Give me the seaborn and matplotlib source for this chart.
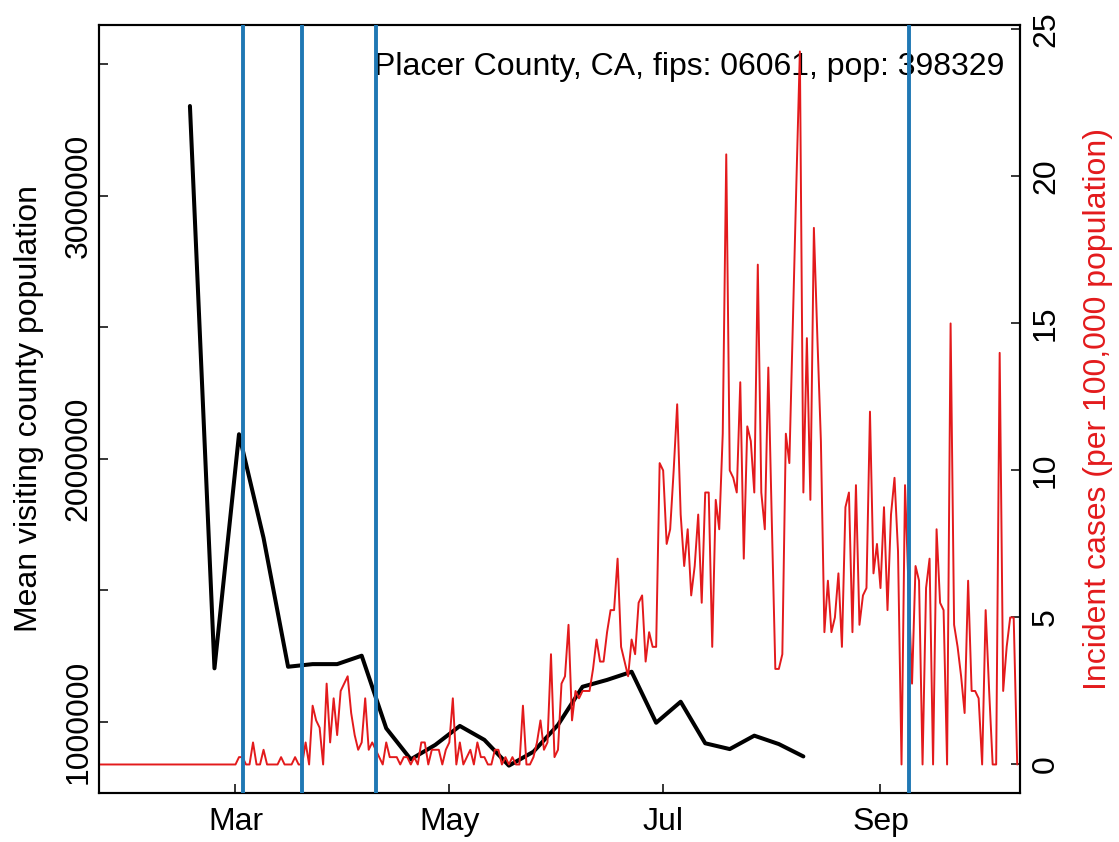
import pandas as pd
import seaborn as sns
import matplotlib.pyplot as plt
import matplotlib.dates as mdates

# weekly mean visiting county population (black line)
visit_dates = pd.date_range("2020-02-17", "2020-08-10", freq="7D")
visit_pop = [3342000, 1204000, 2094000, 1700000, 1210000, 1220000, 1220000,
             1252000, 976000, 858000, 913000, 985000, 932000, 834000,
             887000, 989000, 1134000, 1160000, 1191000, 997000, 1077000,
             919000, 897000, 948000, 916000, 869000]

# daily incident cases per 100,000 (red line), 2020-01-22 .. 2020-10-10
case_dates = pd.date_range("2020-01-22", "2020-10-10", freq="D")
cases_jan = [0, 0, 0, 0, 0, 0, 0, 0, 0, 0]
cases_feb = [0, 0, 0, 0, 0, 0, 0, 0, 0, 0, 0, 0, 0, 0, 0, 0, 0, 0, 0, 0,
             0, 0, 0, 0, 0, 0, 0, 0, 0]
cases_mar = [0, .25, .25, 0, 0, .75, 0, 0, .5, 0, 0, 0, 0, .25, 0, 0, 0, .25,
             0, 0, .75, 0, 2.0, 1.5, 1.25, 0, 2.75, .75, 2.25, 1.0, 2.5]
cases_apr = [2.75, 3.0, 1.75, 1.0, .5, .75, 2.25, .5, .75, .5, .25, 0, .75,
             .25, .25, .25, 0, .25, .25, 0, .25, 0, .75, .75, 0, .5, .5, .5,
             0, .5]
cases_may = [.75, 2.25, 0, .75, 0, .25, .5, 0, .75, .25, .25, 0, 0, .5, .5, 0,
             .25, 0, .25, 0, 0, 2.0, 0, 0, .25, .75, 1.5, .5, .75, 3.75, .25]
cases_jun = [.5, 2.75, 3.0, 4.75, 1.5, 2.5, 2.25, 2.5, 2.5, 2.5, 3.25, 4.25,
             3.5, 3.5, 4.5, 5.25, 5.25, 7.0, 4.0, 3.5, 3.0, 4.25, 3.75, 5.5,
             5.75, 3.5, 4.5, 4.0, 4.0, 10.25]
cases_jul = [10.0, 7.5, 8.0, 10.0, 12.25, 8.5, 6.75, 8.0, 5.75, 6.75, 8.5, 5.5,
             9.25, 9.25, 4.0, 9.0, 8.0, 11.25, 20.75, 10.0, 9.75, 9.25, 13.0,
             7.0, 11.5, 11.0, 9.25, 17.0, 9.25, 8.0, 13.5]
cases_aug = [8.25, 3.25, 3.25, 3.75, 11.25, 10.25, 15.0, 19.75, 24.25, 9.25,
             14.5, 9.0, 18.25, 14.5, 11.0, 4.5, 6.25, 4.5, 5.0, 6.5, 4.0, 8.75,
             9.25, 4.5, 9.5, 4.75, 5.75, 6.0, 12.0, 6.5, 7.5]
cases_sep = [6.0, 8.75, 5.25, 8.5, 9.75, 7.25, 0, 9.5, 6.0, 2.75, 6.75, 6.25,
             0, 6.0, 7.0, 0, 8.0, 5.5, 5.25, 0, 15.0, 4.75, 4.0, 3.0, 1.75,
             6.25, 2.5, 2.5, 2.25, 0]
cases_oct = [5.25, 2.5, 0, 0, 14.0, 2.5, 4.0, 5.0, 5.0, 0]
case_rate = (cases_jan + cases_feb + cases_mar + cases_apr + cases_may +
             cases_jun + cases_jul + cases_aug + cases_sep + cases_oct)

# intervention dates (blue vertical lines)
event_dates = ["2020-03-03", "2020-03-20", "2020-04-10", "2020-09-09"]

title_text = "Placer County, CA, fips: 06061, pop: 398329"
left_ticks = [1000000, 1500000, 2000000, 2500000, 3000000, 3500000]
left_labels = ["1000000", "", "2000000", "", "3000000", ""]
right_ticks = [0, 5, 10, 15, 20, 25]

red = "#E31A1C"
blue = "#1F78B4"
fs = 23

sns.set_style("ticks", {"axes.edgecolor": "black", "xtick.color": "black",
                        "ytick.color": "black", "xtick.direction": "in",
                        "ytick.direction": "in", "text.color": "black",
                        "axes.labelcolor": "black"})
plt.rcParams["font.family"] = ["Liberation Sans", "DejaVu Sans"]

fig = plt.figure(figsize=(11.19, 8.42), dpi=100)
ax = fig.add_axes([99 / 1119, 1 - 793 / 842, 921 / 1119, 768 / 842])

sns.lineplot(x=visit_dates, y=visit_pop, ax=ax, color="black", linewidth=2.9)
ax2 = ax.twinx()
sns.lineplot(x=case_dates, y=case_rate, ax=ax2, color=red, linewidth=1.4)
for d in event_dates:
    ax2.axvline(pd.Timestamp(d), color=blue, linewidth=2.8, zorder=5)

ax.set_xlim(pd.Timestamp("2020-03-01") - pd.Timedelta(days=38.94),
            pd.Timestamp("2020-03-01") + pd.Timedelta(days=223.8))
ax.xaxis.set_major_locator(mdates.MonthLocator(bymonth=[3, 5, 7, 9]))
ax.xaxis.set_major_formatter(mdates.DateFormatter("%b"))

ax.set_ylim(730000, 3650000)
ax.set_yticks(left_ticks)
ax.set_yticklabels(left_labels, rotation=90, va="center")
ax2.set_ylim(-0.97, 25.15)
ax2.set_yticks(right_ticks)
ax2.set_yticklabels([str(t) for t in right_ticks], rotation=90, va="center")

ax.tick_params(axis="x", direction="in", length=6.5, width=1.1,
               labelsize=fs, pad=10, bottom=True, colors="black")
ax.tick_params(axis="y", direction="in", length=6.5, width=1.1,
               labelsize=fs, pad=4, left=True, right=False, colors="black")
ax2.tick_params(axis="y", direction="in", length=6.5, width=1.1,
                labelsize=fs, pad=8, right=True, left=False, colors="black")

ax.set_xlabel("")
ax.set_ylabel("Mean visiting county population", fontsize=fs, color="black")
ax.yaxis.set_label_coords(-0.0597, 0.5)
ax2.set_ylabel("Incident cases (per 100,000 population)", fontsize=fs, color=red)
ax2.yaxis.set_label_coords(1.0684, 0.5)

for a in (ax, ax2):
    for s in a.spines.values():
        s.set_linewidth(1.5)
        s.set_visible(True)

ax.text(0.9826, 0.9349, title_text, transform=ax.transAxes, ha="right",
        va="baseline", fontsize=fs, color="black")

plt.savefig("out.png", dpi=100)
